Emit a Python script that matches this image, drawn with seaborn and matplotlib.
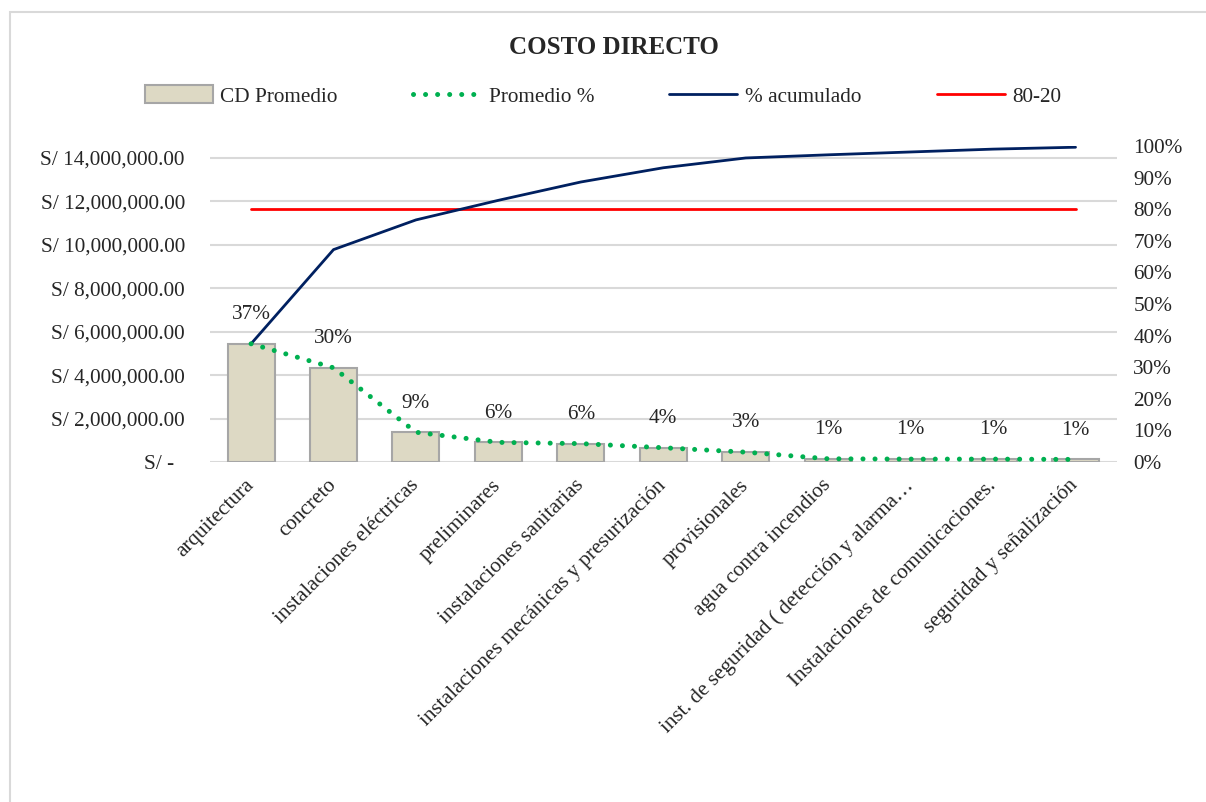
import numpy as np
import pandas as pd
import seaborn as sns
import matplotlib.pyplot as plt
from matplotlib.patches import Rectangle, Patch
from matplotlib.lines import Line2D
from matplotlib.ticker import FuncFormatter, PercentFormatter

# data
categorias = ['arquitectura', 'concreto', 'instalaciones eléctricas', 'preliminares',
              'instalaciones sanitarias', 'instalaciones mecánicas y presurización',
              'provisionales', 'agua contra incendios',
              'inst. de seguridad ( detección y alarma…',
              'Instalaciones de comunicaciones.', 'seguridad y señalización']
cd_promedio = [5430000, 4330000, 1370000, 900000, 845000, 655000, 450000,
               145000, 130000, 130000, 115000]
promedio_pct = [0.374, 0.298, 0.094, 0.062, 0.058, 0.045, 0.031, 0.010, 0.009, 0.009, 0.008]
acumulado = [0.374, 0.672, 0.766, 0.828, 0.886, 0.931, 0.962, 0.972, 0.981, 0.990, 0.996]
etiquetas = ['37%', '30%', '9%', '6%', '6%', '4%', '3%', '1%', '1%', '1%', '1%']
corte = 0.80

df = pd.DataFrame({'cat': categorias, 'cd': cd_promedio, 'pct': promedio_pct,
                   'acum': acumulado, 'x': range(len(categorias))})
df['corte'] = corte

sns.set_style('white')
plt.rcParams['font.family'] = ['Liberation Serif', 'DejaVu Serif']
plt.rcParams['font.size'] = 15.3

fig = plt.figure(figsize=(12.06, 8.02), dpi=100)
ax = fig.add_axes([0.174, 0.424, 0.752, 0.394])

# bars on left axis
ax.bar(df['x'], df['cd'], width=0.57, color='#DDD9C4', edgecolor='#A6A6A6', linewidth=1.5, zorder=2)
ax.set_xlim(-0.5, len(categorias) - 0.5)
ax.set_ylim(0, 14550000)
ax.set_yticks(np.arange(0, 14000001, 2000000))
ax.yaxis.set_major_formatter(FuncFormatter(
    lambda v, p: 'S/ -  ' if v == 0 else 'S/ {:,.2f}'.format(v)))
ax.grid(axis='y', color='#D9D9D9', linewidth=1.5, zorder=0)
ax.set_axisbelow(True)
for s in ax.spines.values():
    s.set_visible(False)
ax.tick_params(axis='y', length=0, pad=18, labelsize=15.3)
ax.set_xticks(df['x'])
ax.set_xticklabels(categorias, rotation=45, ha='right', va='center', rotation_mode='anchor', fontsize=15.3)
ax.tick_params(axis='x', length=0, pad=15)
ax.set_xlabel('')
ax.set_ylabel('')

# lines on right axis
ax2 = ax.twinx()
ax2.set_ylim(0, 1)
ax2.set_yticks(np.arange(0, 1.01, 0.1))
ax2.yaxis.set_major_formatter(PercentFormatter(1, decimals=0))
ax2.tick_params(axis='y', length=0, pad=12, labelsize=15.3)
for s in ax2.spines.values():
    s.set_visible(False)

sns.lineplot(data=df, x='x', y='corte', ax=ax2, color='#FF0000', linewidth=2.0, zorder=3)
sns.lineplot(data=df, x='x', y='acum', ax=ax2, color='#002060', linewidth=2.0, zorder=4)
sns.lineplot(data=df, x='x', y='pct', ax=ax2, color='#00B050', linewidth=3.6,
             linestyle=(0, (0.01, 2.4)), dash_capstyle='round', zorder=5)
ax2.set_xlabel('')
ax2.set_ylabel('')
ax2.set_xlim(-0.5, len(categorias) - 0.5)

for xi, p, t in zip(df['x'], promedio_pct, etiquetas):
    ax2.annotate(t, (xi, p), xytext=(0, 21), textcoords='offset points',
                 ha='center', va='center', fontsize=15.3)

fig.suptitle('COSTO DIRECTO', x=0.509, y=1 - 48 / 802, va='center', fontsize=18, fontweight='bold')

handles = [Patch(facecolor='#DDD9C4', edgecolor='#A6A6A6', linewidth=1.5),
           Line2D([], [], color='#00B050', linewidth=3.6, linestyle=(0, (0.01, 2.4)), dash_capstyle='round'),
           Line2D([], [], color='#002060', linewidth=2.0),
           Line2D([], [], color='#FF0000', linewidth=2.0)]
fig.legend(handles, ['CD Promedio', 'Promedio %', '% acumulado', '80-20'], ncol=4,
           loc='center', bbox_to_anchor=(0.5, 1 - 96 / 802), frameon=False,
           handlelength=3.2, handleheight=0.9, handletextpad=0.35, columnspacing=3.55, fontsize=15.3)

# chart frame
fig.patches.append(Rectangle((10 / 1206, -0.1), 1.2, 1 - 12 / 802 + 0.1, transform=fig.transFigure,
                             fill=False, edgecolor='#D9D9D9', linewidth=1.5))

fig.savefig('out.png', dpi=100)
